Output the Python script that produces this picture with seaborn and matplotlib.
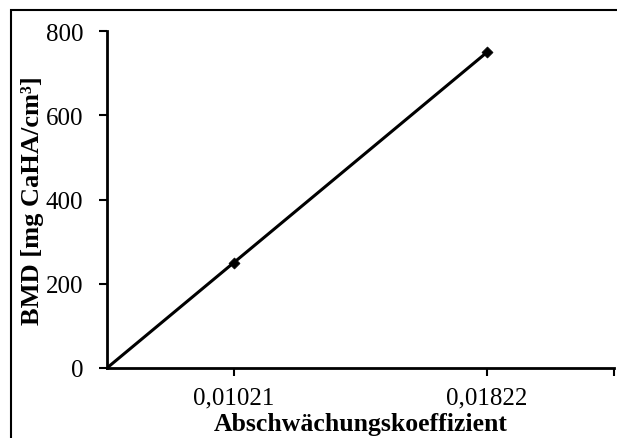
import numpy as np
import pandas as pd
import matplotlib
matplotlib.use("Agg")
import matplotlib.pyplot as plt
from matplotlib.patches import Rectangle
import seaborn as sns

# Calibration data: attenuation coefficient vs. bone mineral density
categories = ["0,01021", "0,01822"]
bmd = [250, 750]
y_ticks = [0, 200, 400, 600, 800]

sns.set_theme(style="white")
plt.rcParams["font.family"] = ["Liberation Serif", "DejaVu Serif"]

fig = plt.figure(figsize=(6.17, 4.39), dpi=100)
ax = fig.add_axes([0.1734, 0.1595, 0.8216, 0.7675])

pos = np.arange(1, len(categories) + 1)
df = pd.DataFrame({"pos": pos, "bmd": bmd})

# Linear trend through the points, extended back to the left edge
slope, intercept = np.polyfit(pos, bmd, 1)
trend_x = np.array([0.5, pos[-1]])
trend = pd.DataFrame({"pos": trend_x, "bmd": slope * trend_x + intercept})
sns.lineplot(data=trend, x="pos", y="bmd", ax=ax, color="black", linewidth=2.2)
sns.scatterplot(data=df, x="pos", y="bmd", ax=ax, color="black", marker="D",
                s=32, edgecolor="black", zorder=3)

ax.set_xlim(0.5, 2.5)
ax.set_ylim(0, 800)
ax.set_xticks(list(pos) + [2.5])
ax.set_xticklabels(categories + [""])
ax.set_yticks(y_ticks)
ax.set_yticklabels([str(v) for v in y_ticks])

for side in ("top", "right"):
    ax.spines[side].set_visible(False)
for side in ("left", "bottom"):
    ax.spines[side].set_color("black")
    ax.spines[side].set_linewidth(2.0)

ax.tick_params(axis="both", which="major", direction="out", length=6, width=1.5,
               color="black", labelsize=18, labelcolor="black",
               left=True, bottom=True)
ax.tick_params(axis="x", pad=7)
ax.tick_params(axis="y", pad=11)

ax.set_xlabel("Abschwächungskoeffizient", fontsize=18.5, fontweight="bold",
              color="black", labelpad=3)
ax.set_ylabel("BMD [mg CaHA/cm³]", fontsize=19, fontweight="bold",
              color="black", labelpad=1.5)

# Outer frame around the chart area
fig.patches.append(Rectangle((11 / 617, -0.05), 1.0, (439 - 11) / 439 + 0.05,
                             transform=fig.transFigure, fill=False,
                             edgecolor="black", linewidth=1.5))

fig.savefig("out.png", dpi=100, facecolor="white")
